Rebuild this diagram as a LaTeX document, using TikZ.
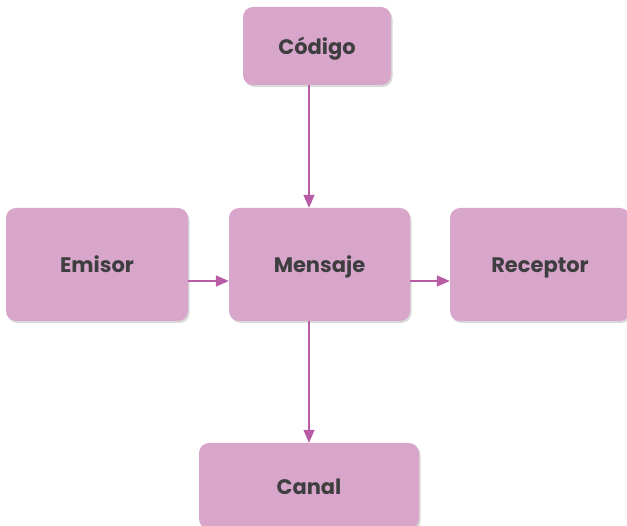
\documentclass[tikz,border=0pt]{standalone}
\usepackage{fontspec}
\setmainfont{Poppins}
\usetikzlibrary{shadows,arrows.meta}
\definecolor{boxfill}{HTML}{D8A6CB}
\definecolor{arrowc}{HTML}{B85CA6}
\definecolor{txt}{HTML}{3E3E40}
\tikzset{
  box/.style={rectangle, rounded corners=10pt, fill=boxfill, text=txt,
    font=\fontsize{21}{24}\selectfont\bfseries,
    text height=20pt, text depth=3pt,
    drop shadow={shadow xshift=1.5pt, shadow yshift=-2pt, opacity=0.15, fill=black},
    inner sep=0pt},
  conn/.style={draw=arrowc, line width=1.5pt, -{Triangle[length=13pt,width=11pt]}}
}
\begin{document}
\begin{tikzpicture}[x=1pt,y=-1pt]
\useasboundingbox (0,0) rectangle (627,526);
\node[box, minimum width=148pt, minimum height=78pt] (cod) at (317,46) {Código};
\node[box, minimum width=182pt, minimum height=113pt] (emi) at (97,264.5) {Emisor};
\node[box, minimum width=181pt, minimum height=113pt] (men) at (319.5,264.5) {Mensaje};
\node[box, minimum width=180pt, minimum height=113pt] (rec) at (540,264.5) {Receptor};
\node[box, minimum width=220pt, minimum height=86pt] (can) at (309,486) {Canal};
\draw[conn] ([xshift=-8pt]cod.south) -- ([xshift=-10.5pt]men.north);
\draw[conn] ([xshift=-10.5pt]men.south) -- ([xshift=0pt]can.north);
\draw[conn] ([yshift=-16.5pt]emi.east) -- ([yshift=-16.5pt]men.west);
\draw[conn] ([yshift=-16.5pt]men.east) -- ([yshift=-16.5pt]rec.west);
\end{tikzpicture}
\end{document}
